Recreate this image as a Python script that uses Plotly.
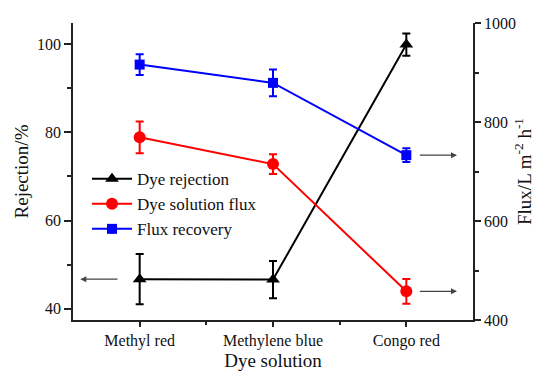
import plotly.graph_objects as go

categories = ["Methyl red", "Methylene blue", "Congo red"]
rejection = [46.7, 46.6, 99.9]
rejection_err = [5.7, 4.2, 2.5]
solution_flux = [769, 715, 458]
solution_flux_err = [32, 20, 25]
flux_recovery = [916, 879, 733]
flux_recovery_err = [21, 27, 14]

xpos = list(range(len(categories)))
FONT = "Liberation Serif, Times New Roman, serif"

fig = go.Figure()

def add(name, y, err, color, symbol, size, yaxis):
    fig.add_trace(go.Scatter(
        x=xpos, y=y, name=name, mode="lines+markers", yaxis=yaxis,
        line=dict(color=color, width=2),
        marker=dict(symbol=symbol, size=size, color=color),
        error_y=dict(type="data", array=err, visible=True, color=color,
                     thickness=2, width=4),
    ))

add("Dye rejection", rejection, rejection_err, "black", "triangle-up", 12, "y")
add("Dye solution flux", solution_flux, solution_flux_err, "red", "circle", 12, "y2")
add("Flux recovery", flux_recovery, flux_recovery_err, "blue", "square", 10, "y2")

axis_common = dict(showline=True, linecolor="#222", linewidth=1.5, automargin=False,
                   tickcolor="#222", tickwidth=1.5, showgrid=False, zeroline=False,
                   tickfont=dict(family=FONT, size=16, color="#111"))

fig.update_layout(
    width=537, height=377,
    margin=dict(l=73, r=64, t=23, b=57),
    paper_bgcolor="white", plot_bgcolor="white",
    font=dict(family=FONT, size=16, color="#111"),
    showlegend=True,
    legend=dict(x=0.035, y=0.535, xanchor="left", yanchor="top",
                bgcolor="rgba(0,0,0,0)", font=dict(family=FONT, size=17, color="#111"),
                tracegroupgap=0, itemwidth=40),
    xaxis=dict(range=[-0.5, 2.5], tickmode="array", tickvals=xpos, ticktext=categories,
               ticks="outside", ticklen=5,
               minor=dict(ticks="outside", ticklen=3, tickvals=[0.5, 1.5], tickcolor="#222", tickwidth=1.5),
               title=dict(text="Dye solution", font=dict(family=FONT, size=19), standoff=0),
               **axis_common),
    xaxis2=dict(range=[-0.5, 2.5], overlaying="x", side="top", anchor="y",
                tickmode="array", tickvals=xpos, showticklabels=False,
                ticks="inside", ticklen=5,
                minor=dict(ticks="inside", ticklen=3, tickvals=[0.5, 1.5], tickcolor="#222", tickwidth=1.5),
                **axis_common),
    yaxis=dict(range=[37.44, 104.8], tickmode="array", tickvals=[40, 60, 80, 100],
               ticks="outside", ticklen=7,
               minor=dict(ticks="outside", ticklen=4, tickvals=[50, 70, 90], tickcolor="#222", tickwidth=1.5),
               title=dict(text="Rejection/%", font=dict(family=FONT, size=19), standoff=3),
               **axis_common),
    yaxis2=dict(range=[400, 1000], overlaying="y", side="right", anchor="x",
                tickmode="array", tickvals=[400, 600, 800, 1000],
                ticks="outside", ticklen=6,
                minor=dict(ticks="outside", ticklen=4, tickvals=[500, 700, 900], tickcolor="#222", tickwidth=1.5),
                title=dict(text="Flux/L m<sup>-2</sup> h<sup>-1</sup>", font=dict(family=FONT, size=19), standoff=3),
                **axis_common),
)

arrow = dict(showarrow=True, arrowhead=2, arrowsize=1, arrowwidth=1.2,
             arrowcolor="#444", text="")
fig.add_annotation(x=-0.445, y=rejection[0], ax=-0.155, ay=rejection[0],
                   xref="x", yref="y", axref="x", ayref="y", **arrow)
fig.add_annotation(x=2.38, y=flux_recovery[2], ax=2.09, ay=flux_recovery[2],
                   xref="x", yref="y2", axref="x", ayref="y2", **arrow)
fig.add_annotation(x=2.38, y=solution_flux[2], ax=2.09, ay=solution_flux[2],
                   xref="x", yref="y2", axref="x", ayref="y2", **arrow)

fig.write_html("out.html")
